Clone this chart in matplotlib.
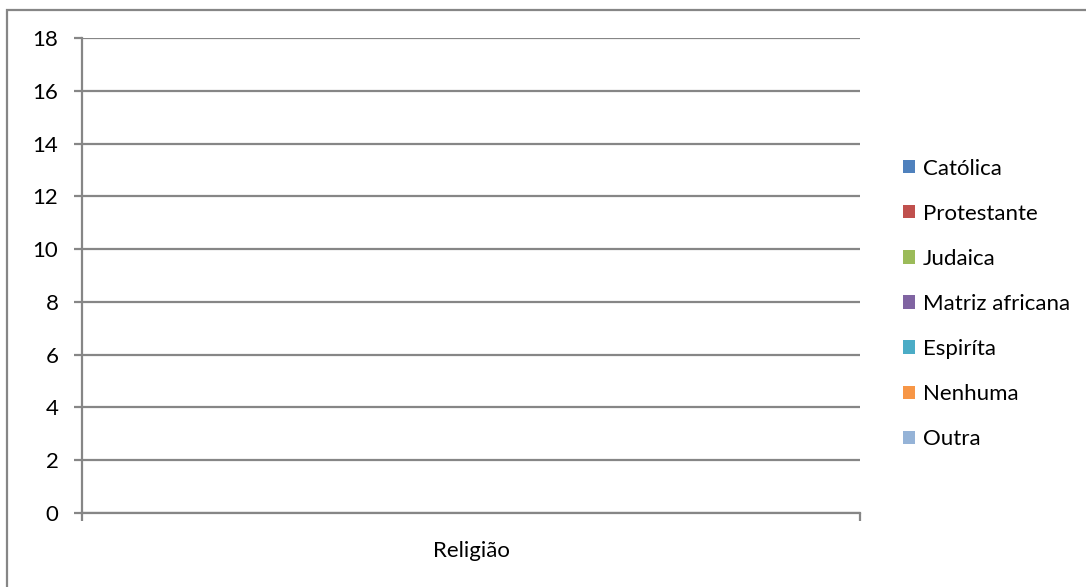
import matplotlib
matplotlib.use("Agg")
import matplotlib.pyplot as plt
from matplotlib.patches import Rectangle
import numpy as np

plt.rcParams['font.family'] = ['Lato', 'DejaVu Sans']

categories = ["Religião"]
series_names = ["Católica", "Protestante", "Judaica", "Matriz africana",
                "Espiríta", "Nenhuma", "Outra"]
series_values = [[0], [0], [0], [0], [0], [0], [0]]
colors = ["#4F81BD", "#C0504D", "#9BBB59", "#8064A2", "#4BACC6", "#F79646", "#95B3D7"]
y_ticks = [0, 2, 4, 6, 8, 10, 12, 14, 16, 18]

W, H = 1086, 587
FS = 16
fig = plt.figure(figsize=(W / 100, H / 100), dpi=100)
ax = fig.add_axes([82 / W, 1 - 513 / H, (860 - 82) / W, (513 - 38) / H])

grid_c = "#868686"
n = len(series_names)
width = 0.8 / n
x = np.arange(len(categories))
handles = []
for i, (name, vals, c) in enumerate(zip(series_names, series_values, colors)):
    b = ax.bar(x - 0.4 + width * (i + 0.5), vals, width, color=c, label=name)
    handles.append(b)

ax.set_xlim(-0.5, len(categories) - 0.5)
ax.set_ylim(0, 18)
ax.set_yticks(y_ticks)
ax.set_yticklabels([str(t) for t in y_ticks], fontsize=FS)
ax.yaxis.grid(True, color=grid_c, linewidth=1.6)
ax.set_axisbelow(True)
for s in ["top", "right"]:
    ax.spines[s].set_visible(False)
for s in ["left", "bottom"]:
    ax.spines[s].set_color(grid_c)
    ax.spines[s].set_linewidth(1.6)
ax.tick_params(axis="y", direction="out", length=6, width=1.6, color=grid_c, pad=11)

ax.set_xticks(np.arange(len(categories) + 1) - 0.5)
ax.set_xticklabels([""] * (len(categories) + 1))
ax.tick_params(axis="x", which="major", direction="out", length=6, width=1.6, color=grid_c)
ax.set_xticks(x, minor=True)
ax.set_xticklabels(categories, minor=True, fontsize=FS)
ax.tick_params(axis="x", which="minor", length=0, pad=20)

leg = fig.legend(handles=handles, labels=series_names, loc="upper left",
                 bbox_to_anchor=(887 / W, 1 - 143 / H), frameon=False, fontsize=FS,
                 handlelength=0.55, handleheight=0.55, handletextpad=0.35, labelspacing=1.13,
                 borderpad=0.2)

fig.patches.append(Rectangle((7 / W, -0.1), 1.2, 1 - 10 / H + 0.1, transform=fig.transFigure,
                             fill=False, edgecolor=grid_c, linewidth=1.6, zorder=0))

fig.savefig("out.png", dpi=100)
